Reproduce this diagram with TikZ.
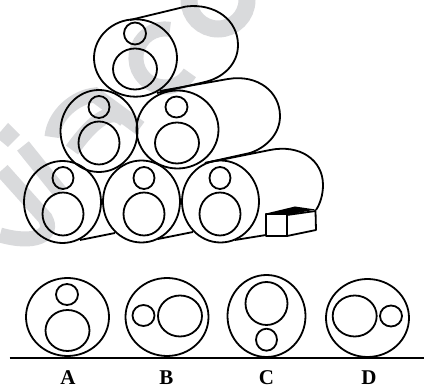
\documentclass[tikz,border=0pt]{standalone}
\usepackage{fontspec}
\setmainfont{Liberation Serif}
\definecolor{wm}{HTML}{D9DADC}
\tikzset{
  x=1pt,y=-1pt,
  ink/.style={draw=black,line width=1.8pt,line join=round},
  wmband/.style={draw=wm,line width=15pt},
  optlabel/.style={font=\bfseries\fontsize{21}{21}\selectfont,inner sep=0pt,anchor=center}
}
\newcommand{\ring}[4]{\draw[ink] (#1,#2) ellipse [x radius=#3,y radius=#4];}
\begin{document}
\begin{tikzpicture}
\useasboundingbox (0,0) rectangle (424,387);
\fill[white] (0,0) rectangle (424,387);
% watermark
\begin{scope}
\clip (0,0) rectangle (424,387);
\draw[wm,line width=17pt] (218,0) circle [radius=29];
\draw[wmband] (170,29.4) arc [start angle=-80,end angle=-329,radius=29];
\fill[wm] (8,123) -- (20,135) -- (8,147) -- (-4,137) -- cycle;
\draw[wmband] (23,146) -- (60,192);
\draw[wmband] (2,170) -- (45,218) .. controls (55,235) and (35,245) .. (0,235);
\draw[wmband] (52,137) .. controls (54,115) and (75,97) .. (95,95) -- (140,128);
\draw[wmband] (125,120) .. controls (110,105) and (90,125) .. (72,150);
\end{scope}
% cylinder bodies
\draw[ink] (130,20) -- (186,6.5) .. controls (215,3) and (238,20) .. (238,45) .. controls (238,65) and (222,78) .. (205,82) -- (157,93);
\draw[ink] (160,91) -- (228,79) .. controls (258,74) and (280,92) .. (280,116) .. controls (280,135) and (265,148) .. (250,153) -- (205,163);
\draw[ink] (205,163) -- (270,150) .. controls (300,144) and (323,160) .. (323,185) .. controls (323,195) and (320,204) .. (316,210);
\draw[ink] (80,240) -- (115,233);
\draw[ink] (158,239) -- (193,232);
\draw[ink] (235,240) -- (266,235);
% top
\ring{135.5}{58}{41.5}{38.7}\ring{135}{33.5}{11}{11}\ring{135}{69}{22}{20.5}
% middle
\ring{99}{131}{38.5}{41}\ring{99}{107}{10.5}{11}\ring{99}{143}{20.5}{21.5}
\ring{177.5}{129.5}{41}{39}\ring{176.5}{107}{11}{10.5}\ring{177}{143}{22}{20.5}
% bottom
\ring{62.5}{202}{38.5}{41}\ring{63}{178}{10.5}{11}\ring{63}{214}{20.5}{21.5}
\ring{141.5}{201.5}{38.5}{41}\ring{144}{178}{10.5}{11}\ring{144}{214}{20.5}{21.5}
\ring{220.5}{201.5}{38.5}{41}\ring{220}{178}{10.5}{11}\ring{220}{214}{20.5}{21.5}
% box
\fill[black] (266,213.5) -- (295,206.5) -- (315.5,209.5) -- (287,215) -- cycle;
\draw[ink] (266,214) rectangle (287,236);
\draw[ink] (287,215) -- (315.5,211) -- (316,230) -- (287,236);
% options
\ring{67.5}{317}{41.5}{39}\ring{67}{294.5}{11}{10.5}\ring{67.5}{330.5}{22}{20.5}
\ring{167}{317}{41.5}{39}\ring{143.5}{315.5}{11}{10.5}\ring{180}{316}{22}{20.5}
\ring{266.5}{316}{39}{41}\ring{266.5}{303.5}{21}{21.5}\ring{266.5}{339.7}{10.5}{11}
\ring{367.5}{318}{41.5}{39}\ring{354.7}{316}{22}{20.5}\ring{391}{316}{11}{10.5}
\coordinate (gl) at (9.5,358);
\coordinate (gr) at (424,358);
\draw[black,line width=2.2pt] (gl) -- (gr);
\node[optlabel] (la) at (68,377.5) {A};
\node[optlabel] (lb) at (166.5,377.5) {B};
\node[optlabel] (lc) at (266.5,377.5) {C};
\node[optlabel] (ld) at (369,377.5) {D};
\end{tikzpicture}
\end{document}
